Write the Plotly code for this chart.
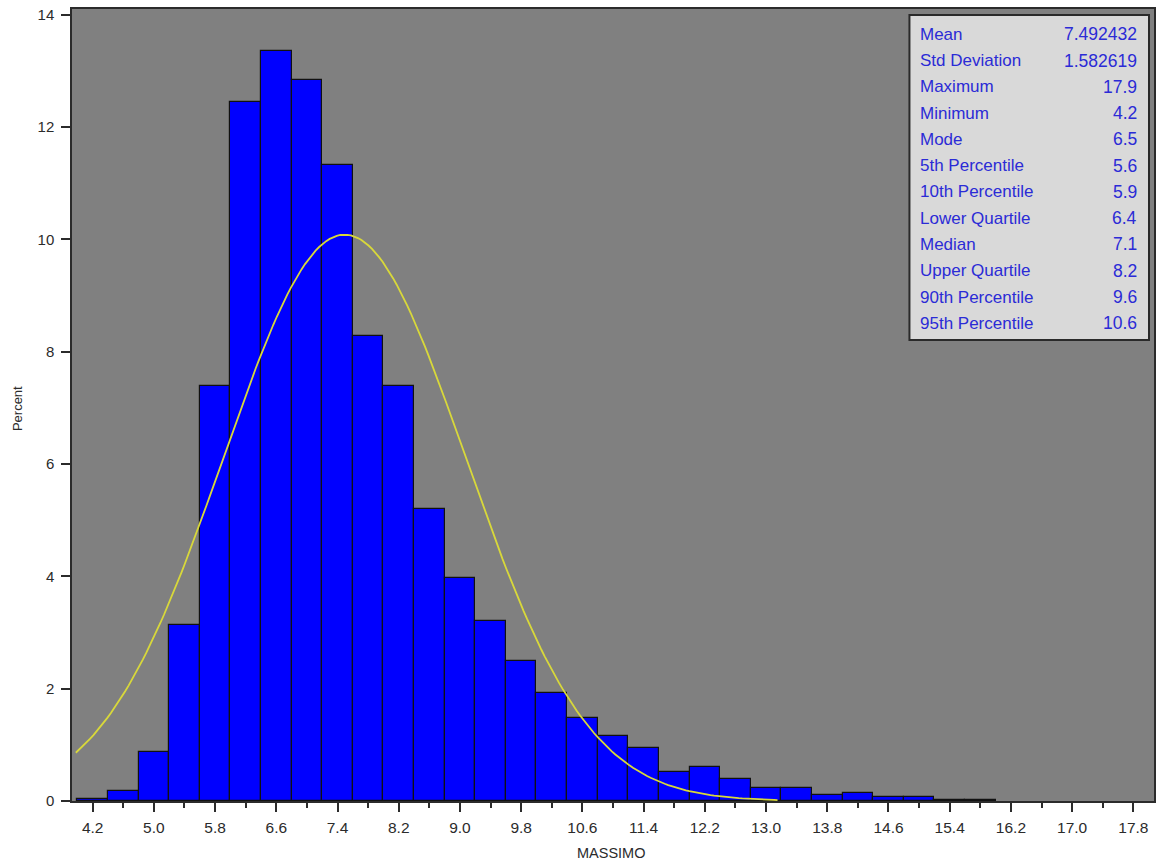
import numpy as np
import plotly.graph_objects as go

# Histogram of MASSIMO: bin centres (width 0.4) and percent per bin
bin_centers = [4.2, 4.6, 5.0, 5.4, 5.8, 6.2, 6.6, 7.0, 7.4, 7.8, 8.2, 8.6, 9.0, 9.4,
               9.8, 10.2, 10.6, 11.0, 11.4, 11.8, 12.2, 12.6, 13.0, 13.4, 13.8,
               14.2, 14.6, 15.0, 15.4, 15.8]
percent = [0.03, 0.18, 0.87, 3.14, 7.38, 12.44, 13.35, 12.83, 11.33, 8.28, 7.38,
           5.20, 3.97, 3.20, 2.49, 1.92, 1.48, 1.16, 0.95, 0.52, 0.61, 0.39, 0.23,
           0.24, 0.11, 0.14, 0.08, 0.08, 0.02, 0.02]
bin_width = 0.4

# Summary statistics shown in the inset table
stat_names = ["Mean", "Std Deviation", "Maximum", "Minimum", "Mode", "5th Percentile",
              "10th Percentile", "Lower Quartile", "Median", "Upper Quartile",
              "90th Percentile", "95th Percentile"]
stat_values = ["7.492432", "1.582619", "17.9", "4.2", "6.5", "5.6", "5.9", "6.4",
               "7.1", "8.2", "9.6", "10.6"]
MEAN = 7.492432
STD = 1.582619

x_ticks = [4.2, 5.0, 5.8, 6.6, 7.4, 8.2, 9.0, 9.8, 10.6, 11.4, 12.2, 13.0, 13.8,
           14.6, 15.4, 16.2, 17.0, 17.8]
y_ticks = [0, 2, 4, 6, 8, 10, 12, 14]

# Fitted normal curve, scaled to percent per bin
curve_x = np.linspace(3.98, 13.15, 200)
curve_y = 100 * bin_width / (STD * np.sqrt(2 * np.pi)) * np.exp(-0.5 * ((curve_x - MEAN) / STD) ** 2)

W, H = 1157, 867
ML, MR, MT, MB = 72, 1, 9, 66
PW, PH = W - ML - MR, H - MT - MB


def px_x(px):
    return (px - ML) / PW


def px_y(py):
    return (H - MB - py) / PH


FONT = "Arial, Liberation Sans, sans-serif"
AXIS_COLOR = "#2b2b2b"
STAT_COLOR = "#2b2bd6"

fig = go.Figure()
fig.add_trace(go.Bar(
    x=bin_centers, y=percent, width=bin_width,
    marker=dict(color="#0000ff", line=dict(color="#111111", width=1.2)),
    showlegend=False, hoverinfo="x+y",
))
fig.add_trace(go.Scatter(
    x=curve_x, y=curve_y, mode="lines",
    line=dict(color="#d8d83a", width=1.8),
    showlegend=False, hoverinfo="skip",
))

# Statistics inset
fig.add_shape(type="rect", xref="paper", yref="paper",
              x0=px_x(911), x1=px_x(1151), y0=px_y(340), y1=px_y(15),
              fillcolor="#d9d9d9", line=dict(color="#2a2a2a", width=2), layer="above")
for i, (name, val) in enumerate(zip(stat_names, stat_values)):
    yy = px_y(34.3 + 26.27 * i)
    fig.add_annotation(xref="paper", yref="paper", x=px_x(920), y=yy, text=name,
                       showarrow=False, xanchor="left", yanchor="middle",
                       font=dict(family=FONT, size=17, color=STAT_COLOR))
    fig.add_annotation(xref="paper", yref="paper", x=px_x(1141), y=yy, text=val,
                       showarrow=False, xanchor="right", yanchor="middle",
                       font=dict(family=FONT, size=17.5, color=STAT_COLOR))

# Axis titles
fig.add_annotation(xref="paper", yref="paper", x=px_x(612), y=px_y(853), text="MASSIMO",
                   showarrow=False, xanchor="center", yanchor="middle",
                   font=dict(family=FONT, size=14.5, color=AXIS_COLOR))
fig.add_annotation(xref="paper", yref="paper", x=px_x(18), y=px_y(409), text="Percent",
                   showarrow=False, textangle=-90, xanchor="center", yanchor="middle",
                   font=dict(family=FONT, size=13, color=AXIS_COLOR))

fig.update_layout(
    width=W, height=H,
    margin=dict(l=ML, r=MR, t=MT, b=MB, pad=0),
    paper_bgcolor="white", plot_bgcolor="#808080",
    bargap=0, font=dict(family=FONT, size=15, color=AXIS_COLOR),
    xaxis=dict(range=[3.93, 18.07], tickvals=x_ticks, tickformat=".1f",
               ticks="outside", ticklen=9, tickwidth=1.5, tickcolor=AXIS_COLOR,
               minor=dict(dtick=0.4, tick0=4.2, ticks="outside", ticklen=5,
                          tickwidth=1.5, tickcolor=AXIS_COLOR),
               showline=True, linecolor=AXIS_COLOR, linewidth=1.5, mirror=True,
               showgrid=False, zeroline=False, ticklabelstandoff=3,
               tickfont=dict(family=FONT, size=15.5, color=AXIS_COLOR)),
    yaxis=dict(range=[0, 14.1], tickvals=y_ticks,
               ticks="outside", ticklen=9, tickwidth=1.5, tickcolor=AXIS_COLOR,
               showline=True, linecolor=AXIS_COLOR, linewidth=1.5, mirror=True,
               showgrid=False, zeroline=False, ticklabelstandoff=4,
               tickfont=dict(family=FONT, size=15, color=AXIS_COLOR)),
)

fig.write_html("out.html")
